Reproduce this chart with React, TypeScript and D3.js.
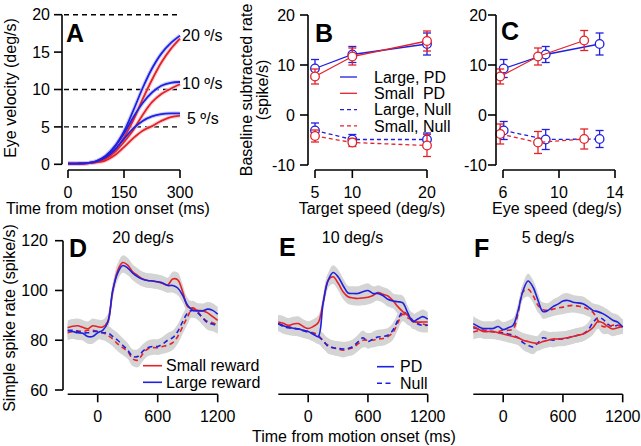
import React from 'react';
import * as d3 from 'd3';

// ---------- Panel A data (eye velocity, deg/s) ----------
const aTime = [0, 25, 50, 75, 100, 125, 150, 175, 200, 225, 250, 275, 300];
const aLarge20 = [0.1, 0.1, 0.15, 0.4, 1.1, 2.4, 4.4, 7.2, 10.2, 12.8, 14.8, 16.2, 17.2];
const aSmall20 = [0.1, 0.1, 0.12, 0.3, 0.8, 1.9, 3.6, 5.9, 8.7, 11.3, 13.6, 15.4, 16.8];
const aLarge10 = [0.1, 0.1, 0.15, 0.4, 1.0, 2.3, 4.1, 6.3, 8.2, 9.6, 10.5, 10.9, 11.0];
const aSmall10 = [0.1, 0.1, 0.12, 0.3, 0.7, 1.6, 3.0, 4.6, 6.6, 8.3, 9.4, 10.1, 10.7];
const aLarge5 = [0.1, 0.1, 0.15, 0.35, 0.9, 1.9, 3.4, 4.8, 5.8, 6.4, 6.7, 6.8, 6.8];
const aSmall5 = [0.1, 0.1, 0.12, 0.25, 0.5, 1.2, 2.3, 3.5, 4.5, 5.1, 5.8, 6.3, 6.5];
const aRefLines = [20, 10, 5];
const aRefLabels = ['20 º/s', '10 º/s', '5 º/s'];
const aRefLabelY = [17.2, 10.8, 6.2];
const aXTicks = [0, 150, 300];
const aYTicks = [0, 5, 10, 15, 20];

// ---------- Panel B data (vs target speed) ----------
const bSpeed = [5, 10, 20];
const bLargePD = [9.3, 12.1, 14.2];
const bLargePDErr = [1.8, 1.6, 2.2];
const bSmallPD = [7.7, 11.7, 14.8];
const bSmallPDErr = [1.5, 1.7, 2.0];
const bLargeNull = [-3.1, -4.9, -4.9];
const bLargeNullErr = [1.5, 1.0, 1.3];
const bSmallNull = [-4.2, -5.5, -6.1];
const bSmallNullErr = [1.2, 0.8, 2.2];
const bXTicks = [5, 10, 20];
const rateTicks = [-10, 0, 10, 20];
const legendLabels = ['Large, PD', 'Small\u00A0\u00A0PD', 'Large, Null', 'Small, Null'];

// ---------- Panel C data (vs eye speed) ----------
const cLargeX = [6.05, 9.05, 12.9];
const cSmallX = [5.8, 8.5, 11.8];
const cLargePD = [9.3, 12.1, 14.2];
const cLargePDErr = [1.8, 1.6, 2.2];
const cSmallPD = [7.7, 11.7, 14.9];
const cSmallPDErr = [1.5, 1.7, 2.0];
const cLargeNull = [-3.1, -4.9, -4.8];
const cLargeNullErr = [1.8, 2.0, 1.7];
const cSmallNull = [-3.8, -5.5, -4.8];
const cSmallNullErr = [2.0, 2.2, 2.0];
const cXTicks = [6, 10, 14];

// ---------- Panels D-F data (simple spike rate, spike/s) ----------
const tsTime = [-300, -250, -200, -150, -100, -50, 0, 50, 100, 150, 200, 250, 300, 350, 400, 450, 500,
  550, 600, 650, 700, 750, 800, 850, 900, 950, 1000, 1050, 1100, 1150, 1200];
const dSmallPD = [85.0, 85.6, 85.8, 85.2, 84.6, 85.8, 85.4, 85.3, 87.5, 99.5, 108.0, 111.2, 110.2, 107.5, 106.0, 104.6,
  104.0, 103.8, 103.4, 102.8, 102.2, 104.6, 104.3, 99.5, 93.5, 92.8, 92.0, 91.8, 91.0, 89.5, 88.0];
const dLargePD = [83.8, 83.5, 83.0, 82.8, 81.5, 81.5, 83.0, 84.0, 87.0, 100.0, 107.0, 110.0, 109.0, 107.0, 105.5, 104.5,
  104.0, 103.8, 103.5, 103.0, 102.0, 102.0, 101.0, 98.0, 94.0, 92.0, 91.8, 91.8, 92.5, 92.0, 90.5];
const dSmallNull = [83.0, 83.5, 83.8, 83.5, 84.0, 84.0, 83.5, 83.0, 82.0, 80.5, 78.5, 77.0, 75.5, 72.5, 72.0, 74.5,
  76.5, 77.0, 77.0, 77.5, 78.0, 79.0, 81.5, 85.5, 89.5, 93.0, 91.5, 89.0, 87.5, 87.0, 86.0];
const dLargeNull = [84.0, 84.0, 83.5, 83.0, 83.0, 83.5, 83.5, 83.0, 83.0, 81.5, 80.0, 78.0, 76.0, 73.5, 73.5, 75.5,
  77.0, 77.5, 77.5, 78.5, 80.0, 81.0, 83.5, 87.5, 91.0, 92.0, 91.0, 89.0, 87.0, 86.5, 85.5];

const eLargePD = [86.7, 85.8, 85.2, 84.8, 84.6, 84.0, 83.5, 82.5, 81.5, 95.0, 104.0, 107.2, 105.5, 102.0, 99.0, 98.8,
  98.8, 99.5, 100.0, 98.8, 98.8, 98.0, 96.5, 95.8, 95.5, 95.0, 91.0, 87.5, 88.5, 89.5, 88.5];
const eSmallPD = [87.3, 86.8, 86.0, 86.5, 86.7, 85.5, 84.7, 85.5, 87.0, 95.0, 104.0, 105.5, 103.0, 99.5, 97.5, 97.0,
  96.8, 97.0, 97.3, 98.0, 99.2, 98.5, 97.8, 96.0, 93.5, 91.5, 90.0, 87.5, 87.3, 87.3, 87.3];
const eLargeNull = [86.7, 85.5, 85.0, 84.7, 84.5, 83.8, 83.3, 82.5, 81.5, 80.0, 77.5, 77.0, 76.7, 76.5, 76.7, 77.5,
  79.3, 81.0, 79.5, 80.5, 81.3, 81.5, 82.0, 84.0, 88.0, 91.5, 90.0, 88.0, 86.5, 86.0, 86.0];
const eSmallNull = [86.5, 86.0, 85.5, 85.0, 84.5, 84.0, 83.5, 83.0, 82.0, 79.5, 78.0, 77.0, 76.5, 76.0, 76.5, 77.0,
  78.5, 80.0, 80.0, 80.0, 80.5, 80.7, 81.5, 83.0, 87.0, 90.5, 89.0, 88.0, 87.0, 86.5, 86.0];

const fUpperBlue = [86.7, 85.5, 84.7, 84.7, 84.7, 85.5, 84.3, 85.0, 86.0, 92.0, 100.0, 103.8, 101.3, 96.0, 91.5, 92.0,
  93.5, 94.5, 95.8, 96.0, 95.3, 95.0, 94.7, 93.5, 92.0, 91.5, 90.7, 89.5, 88.0, 87.3, 85.3];
const fUpperRed = [83.3, 83.8, 84.0, 83.8, 83.3, 83.5, 84.0, 84.0, 84.5, 91.0, 99.5, 100.5, 98.0, 94.0, 92.3, 92.0,
  92.5, 93.0, 93.3, 93.8, 94.0, 93.7, 93.3, 92.5, 91.3, 88.0, 85.5, 85.5, 86.0, 86.0, 85.3];
const fLowerRed = [85.5, 84.5, 83.5, 83.5, 83.5, 83.0, 82.5, 82.0, 81.5, 81.0, 80.0, 79.5, 79.0, 78.7, 79.5, 80.0,
  80.5, 80.5, 80.7, 81.0, 81.5, 82.0, 82.5, 83.5, 85.0, 87.5, 87.0, 85.5, 84.5, 85.0, 85.5];
const fLowerBlue = [85.0, 84.5, 84.0, 83.5, 83.5, 83.0, 83.0, 82.5, 82.0, 81.0, 79.0, 78.0, 77.3, 79.0, 81.0, 80.5,
  80.0, 80.5, 80.5, 81.0, 81.5, 82.0, 82.5, 84.0, 87.0, 89.0, 88.5, 86.5, 85.5, 86.0, 85.5];

const tsXTicks = [0, 600, 1200];
const tsYTicks = [60, 80, 100, 120];
const tsTitles = ['20 deg/s', '10 deg/s', '5 deg/s'];

// ---------- styles ----------
const FONT = "'Liberation Sans', Arial, Helvetica, sans-serif";
const FS = 16;
const BLUE = '#2020e0';
const RED = '#e3222a';
const GRAY = '#d4d4d4';
const BAND = 2.9;
const AX = 1.6;
const TICK = 8;

function YAxis({ x, scale, ticks, gap }: any) {
  const [r0, r1] = scale.range();
  return (
    <g>
      <line x1={x} x2={x} y1={Math.min(r0, r1)} y2={Math.max(r0, r1)} stroke="#000" strokeWidth={AX} />
      {ticks.map((t: number) => (
        <g key={t}>
          <line x1={x - TICK} x2={x} y1={scale(t)} y2={scale(t)} stroke="#000" strokeWidth={AX} />
          <text x={x - gap} y={scale(t)} dy="0.36em" textAnchor="end" fontSize={FS} fontFamily={FONT}>{t}</text>
        </g>
      ))}
    </g>
  );
}

function XAxis({ y, scale, ticks }: any) {
  const [r0, r1] = scale.range();
  return (
    <g>
      <line x1={r0} x2={r1} y1={y} y2={y} stroke="#000" strokeWidth={AX} />
      {ticks.map((t: number) => (
        <g key={t}>
          <line x1={scale(t)} x2={scale(t)} y1={y} y2={y + TICK} stroke="#000" strokeWidth={AX} />
          <text x={scale(t)} y={y + 27.5} textAnchor="middle" fontSize={FS} fontFamily={FONT}>{t}</text>
        </g>
      ))}
    </g>
  );
}

function PanelLetter({ x, y, children }: any) {
  return <text x={x} y={y} fontSize={25} fontWeight="bold" fontFamily={FONT}>{children}</text>;
}

function ErrSeries({ xs, ys, errs, color, dashed, xScale, yScale }: any) {
  const line = d3.line<number>().x((_, i) => xScale(xs[i])).y((v) => yScale(v));
  return (
    <g>
      <path d={line(ys) || ''} fill="none" stroke={color} strokeWidth={1.3} strokeDasharray={dashed ? '4,3' : undefined} />
      {ys.map((v: number, i: number) => {
        const cx = xScale(xs[i]);
        const top = yScale(v + errs[i]);
        const bot = yScale(v - errs[i]);
        return (
          <g key={i}>
            <line x1={cx} x2={cx} y1={top} y2={bot} stroke={color} strokeWidth={1.3} />
            <line x1={cx - 4} x2={cx + 4} y1={top} y2={top} stroke={color} strokeWidth={1.3} />
            <line x1={cx - 4} x2={cx + 4} y1={bot} y2={bot} stroke={color} strokeWidth={1.3} />
            <circle cx={cx} cy={yScale(v)} r={4.3} fill="#fff" stroke={color} strokeWidth={1.3} />
          </g>
        );
      })}
    </g>
  );
}

export default function App() {
  // Panel A
  const ax = d3.scaleLinear().domain([0, 300]).range([68, 180]);
  const ay = d3.scaleLinear().domain([0, 20]).range([164.3, 14.7]);
  const aLine = d3.line<number>().x((_, i) => ax(aTime[i])).y((v) => ay(v)).curve(d3.curveCatmullRom);
  const aCurves = [
    { v: aSmall20, c: RED, h: '#f8c4c7' }, { v: aLarge20, c: BLUE, h: '#c2c4f8' },
    { v: aSmall10, c: RED, h: '#f8c4c7' }, { v: aLarge10, c: BLUE, h: '#c2c4f8' },
    { v: aSmall5, c: RED, h: '#f8c4c7' }, { v: aLarge5, c: BLUE, h: '#c2c4f8' },
  ];

  // Panels B, C
  const rateY = d3.scaleLinear().domain([-10, 20]).range([165, 15]);
  const bx = d3.scaleLinear().domain([5, 20]).range([315, 427]);
  const cx = d3.scaleLinear().domain([6, 14]).range([503, 615]);

  // Panels D-F
  const tsY = d3.scaleLinear().domain([60, 120]).range([390, 240.7]);
  const tsX = [
    d3.scaleLinear().domain([-300, 1200]).range([67.7, 217.7]),
    d3.scaleLinear().domain([-300, 1200]).range([278.3, 427.7]),
    d3.scaleLinear().domain([-300, 1200]).range([473.3, 622.7]),
  ];
  const tsPanels = [
    [
      { v: dSmallNull, c: RED, d: true }, { v: dLargeNull, c: BLUE, d: true },
      { v: dSmallPD, c: RED, d: false }, { v: dLargePD, c: BLUE, d: false },
    ],
    [
      { v: eSmallNull, c: RED, d: true }, { v: eLargeNull, c: BLUE, d: true },
      { v: eSmallPD, c: RED, d: false }, { v: eLargePD, c: BLUE, d: false },
    ],
    [
      { v: fLowerBlue, c: BLUE, d: true }, { v: fLowerRed, c: RED, d: false },
      { v: fUpperRed, c: RED, d: true }, { v: fUpperBlue, c: BLUE, d: false },
    ],
  ];
  const titleX = [143, 352.5, 548];
  const letterPos = [[69, 256.5, 'D'], [279, 255.5, 'E'], [474, 256.5, 'F']];

  return (
    <svg width={641} height={446} style={{ position: 'absolute', left: 0, top: 0, background: '#fff' }}
      fontFamily={FONT}>
      <rect width={641} height={446} fill="#fff" />
      {/* ================= Panel A ================= */}
      {aRefLines.map((r) => (
        <line key={r} x1={64} x2={ax(300)} y1={ay(r)} y2={ay(r)} stroke="#000" strokeWidth={1.4} strokeDasharray="5,4" />
      ))}
      {aCurves.map((c, i) => (
        <path key={'h' + i} d={aLine(c.v) || ''} fill="none" stroke={c.h} strokeWidth={4} opacity={0.8} />
      ))}
      {aCurves.map((c, i) => (
        <path key={'l' + i} d={aLine(c.v) || ''} fill="none" stroke={c.c} strokeWidth={1.8} />
      ))}
      {aRefLabels.map((l, i) => (
        <text key={l} x={182 + (i === 2 ? 5 : 0)} y={ay(aRefLabelY[i])} dy="0.36em" fontSize={FS} fontFamily={FONT}>{l}</text>
      ))}
      <YAxis x={62} scale={ay} ticks={aYTicks} gap={12} />
      <XAxis y={170} scale={ax} ticks={aXTicks} />
      <PanelLetter x={66} y={41.5}>A</PanelLetter>
      <text transform="translate(16,88) rotate(-90)" textAnchor="middle" fontSize={FS} fontFamily={FONT}>Eye velocity (deg/s)</text>
      <text x={108} y={214} textAnchor="middle" fontSize={FS} fontFamily={FONT}>Time from motion onset (ms)</text>

      {/* ================= Panel B ================= */}
      <ErrSeries xs={bSpeed} ys={bLargeNull} errs={bLargeNullErr} color={BLUE} dashed xScale={bx} yScale={rateY} />
      <ErrSeries xs={bSpeed} ys={bSmallNull} errs={bSmallNullErr} color={RED} dashed xScale={bx} yScale={rateY} />
      <ErrSeries xs={bSpeed} ys={bLargePD} errs={bLargePDErr} color={BLUE} xScale={bx} yScale={rateY} />
      <ErrSeries xs={bSpeed} ys={bSmallPD} errs={bSmallPDErr} color={RED} xScale={bx} yScale={rateY} />
      <YAxis x={308} scale={rateY} ticks={rateTicks} gap={13} />
      <XAxis y={170} scale={bx} ticks={bXTicks} />
      <PanelLetter x={315} y={41.5}>B</PanelLetter>
      <text transform="translate(252,90) rotate(-90)" textAnchor="middle" fontSize={FS} fontFamily={FONT}>Baseline subtracted rate</text>
      <text transform="translate(268,90) rotate(-90)" textAnchor="middle" fontSize={FS} fontFamily={FONT}>(spike/s)</text>
      <text x={372} y={214} textAnchor="middle" fontSize={FS} fontFamily={FONT}>Target speed (deg/s)</text>
      {legendLabels.map((l, i) => {
        const yy = 77 + i * 16.3;
        const col = i % 2 === 0 ? BLUE : RED;
        return (
          <g key={l}>
            <line x1={340} x2={357} y1={yy} y2={yy} stroke={col} strokeWidth={1.3} strokeDasharray={i >= 2 ? '4,3' : undefined} />
            <text x={374} y={yy} dy="0.36em" fontSize={FS} fontFamily={FONT} style={{ whiteSpace: 'pre' }}>{l}</text>
          </g>
        );
      })}

      {/* ================= Panel C ================= */}
      <ErrSeries xs={cLargeX} ys={cLargeNull} errs={cLargeNullErr} color={BLUE} dashed xScale={cx} yScale={rateY} />
      <ErrSeries xs={cSmallX} ys={cSmallNull} errs={cSmallNullErr} color={RED} dashed xScale={cx} yScale={rateY} />
      <ErrSeries xs={cLargeX} ys={cLargePD} errs={cLargePDErr} color={BLUE} xScale={cx} yScale={rateY} />
      <ErrSeries xs={cSmallX} ys={cSmallPD} errs={cSmallPDErr} color={RED} xScale={cx} yScale={rateY} />
      <YAxis x={496} scale={rateY} ticks={rateTicks} gap={9} />
      <XAxis y={170} scale={cx} ticks={cXTicks} />
      <PanelLetter x={501} y={40}>C</PanelLetter>
      <text x={557} y={214} textAnchor="middle" fontSize={FS} fontFamily={FONT}>Eye speed (deg/s)</text>

      {/* ================= Panels D-F ================= */}
      {tsPanels.map((curves, p) => {
        const xs = tsX[p];
        const area = d3.area<number>().x((_, i) => xs(tsTime[i])).y0((v) => tsY(v - BAND)).y1((v) => tsY(v + BAND)).curve(d3.curveCatmullRom);
        const line = d3.line<number>().x((_, i) => xs(tsTime[i])).y((v) => tsY(v)).curve(d3.curveCatmullRom);
        return (
          <g key={p}>
            {curves.map((c, i) => <path key={'b' + i} d={area(c.v) || ''} fill={GRAY} stroke="none" />)}
            {curves.map((c, i) => (
              <path key={'l' + i} d={line(c.v) || ''} fill="none" stroke={c.c} strokeWidth={1.6}
                strokeDasharray={c.d ? '5,3.5' : undefined} />
            ))}
            <XAxis y={394.3} scale={xs} ticks={tsXTicks} />
            <text x={titleX[p]} y={243} textAnchor="middle" fontSize={FS} fontFamily={FONT}>{tsTitles[p]}</text>
            <PanelLetter x={letterPos[p][0]} y={letterPos[p][1]}>{letterPos[p][2]}</PanelLetter>
          </g>
        );
      })}
      <YAxis x={63} scale={tsY} ticks={tsYTicks} gap={15} />
      <text transform="translate(15,318) rotate(-90)" textAnchor="middle" fontSize={FS} fontFamily={FONT}>Simple spike rate (spike/s)</text>
      <text x={354} y={442} textAnchor="middle" fontSize={FS} fontFamily={FONT}>Time from motion onset (ms)</text>

      {/* legends D, E */}
      <line x1={143} x2={162} y1={365.7} y2={365.7} stroke={RED} strokeWidth={1.6} />
      <text x={166} y={365.7} dy="0.36em" fontSize={FS} fontFamily={FONT}>Small reward</text>
      <line x1={143} x2={162} y1={382.3} y2={382.3} stroke={BLUE} strokeWidth={1.6} />
      <text x={166} y={382.3} dy="0.36em" fontSize={FS} fontFamily={FONT}>Large reward</text>
      <line x1={377} x2={394} y1={366.7} y2={366.7} stroke={BLUE} strokeWidth={1.6} />
      <text x={400} y={366.7} dy="0.36em" fontSize={FS} fontFamily={FONT}>PD</text>
      <line x1={377} x2={394} y1={383.3} y2={383.3} stroke={BLUE} strokeWidth={1.6} strokeDasharray="5,3.5" />
      <text x={400} y={383.3} dy="0.36em" fontSize={FS} fontFamily={FONT}>Null</text>
    </svg>
  );
}
